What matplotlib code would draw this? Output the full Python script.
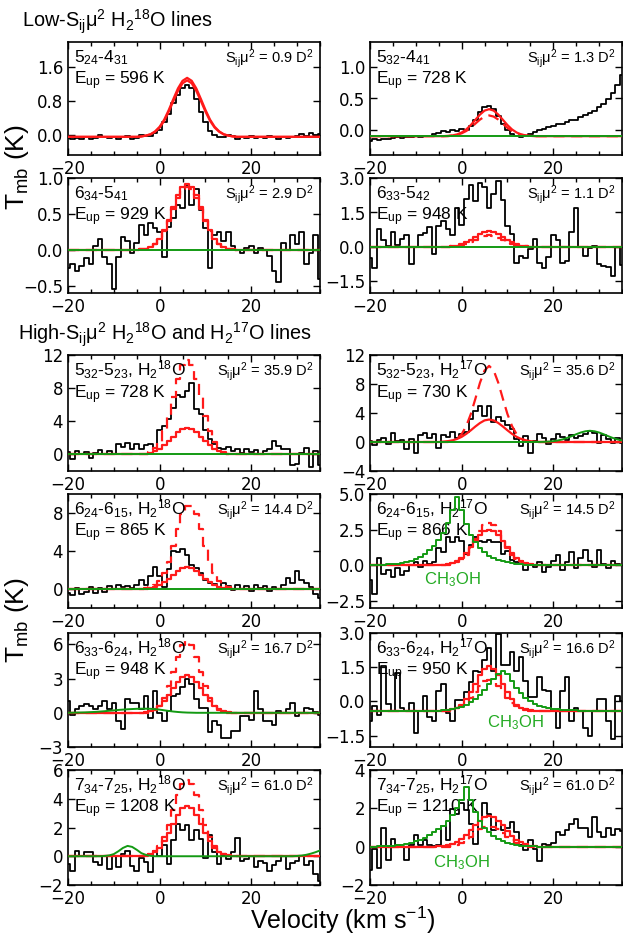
import numpy as np
import matplotlib
matplotlib.use('Agg')
import matplotlib.pyplot as plt
from matplotlib.ticker import MultipleLocator

plt.rcParams['mathtext.fontset'] = 'custom'
plt.rcParams['mathtext.rm'] = 'Liberation Sans'
plt.rcParams['mathtext.it'] = 'Liberation Sans:italic'
plt.rcParams['mathtext.bf'] = 'Liberation Sans:bold'

V_FIRST = -20   # km/s, first channel, 1 km/s channels
V_LAST = 35

# ---- 5_24-4_31 (low Sij mu^2) ----
a_obs = [-0.08, -0.10, -0.07, -0.10, -0.06, -0.10, -0.07, 0.00, -0.05, -0.08, -0.05, -0.10, -0.06, -0.04, -0.09, -0.07, 0.00, -0.04, -0.02, 0.04,
         0.12, 0.30, 0.50, 0.75, 0.95, 1.12, 1.18, 1.10, 0.85, 0.55, 0.30, 0.10, 0.00, -0.05, -0.06, 0.00, -0.04, -0.10, -0.05, -0.08,
         -0.04, -0.07, -0.05, -0.08, -0.03, -0.06, -0.10, -0.05, -0.08, -0.06, -0.03, 0.02, -0.02, 0.03, 0.00, 0.02]
a_fit = [-0.04, -0.02, 0.01, 0.08, 0.19, 0.36, 0.59, 0.85, 1.10, 1.28, 1.35, 1.28, 1.10, 0.85, 0.59, 0.36, 0.19, 0.08, 0.01, -0.02, -0.04]
a_fit2 = [-0.04, -0.02, 0.01, 0.07, 0.17, 0.33, 0.55, 0.80, 1.04, 1.22, 1.29, 1.22, 1.04, 0.80, 0.55, 0.33, 0.17, 0.07, 0.01, -0.02, -0.04]

# ---- 5_32-4_41 ----
b_obs = [-0.17, -0.15, -0.16, -0.14, -0.15, -0.13, -0.12, -0.13, -0.11, -0.12, -0.10, -0.11, -0.10, -0.09, -0.06, -0.05, -0.02, -0.03, 0.00, -0.01,
         0.02, 0.00, 0.06, 0.15, 0.28, 0.37, 0.38, 0.33, 0.22, 0.10, 0.00, -0.07, -0.10, -0.12, -0.10, -0.07, -0.03, 0.00, 0.02, 0.05,
         0.06, 0.09, 0.10, 0.12, 0.15, 0.16, 0.20, 0.24, 0.27, 0.30, 0.36, 0.42, 0.49, 0.58, 0.72, 0.88]
b_fit = [-0.095, -0.088, -0.072, -0.042, 0.007, 0.077, 0.161, 0.244, 0.307, 0.33, 0.307, 0.244, 0.161, 0.077, 0.007, -0.042, -0.072, -0.088, -0.095]
b_fit2 = [-0.09, -0.077, -0.055, -0.018, 0.032, 0.10, 0.164, 0.212, 0.23, 0.212, 0.164, 0.10, 0.032, -0.018, -0.055, -0.077, -0.09]

# ---- 6_34-5_41 ----
c_obs = [-0.25, -0.20, -0.30, -0.22, -0.12, -0.20, 0.05, 0.15, -0.10, -0.20, -0.55, -0.10, 0.18, 0.12, -0.05, 0.10, 0.35, 0.20, 0.38, 0.30,
         0.25, -0.10, 0.32, 0.45, 0.62, 0.58, 0.90, 0.62, 0.85, 0.55, 0.30, -0.25, 0.20, 0.25, 0.12, 0.25, 0.05, 0.00, -0.05, 0.02,
         0.05, -0.05, 0.02, 0.00, -0.08, -0.30, -0.45, 0.10, 0.00, 0.20, 0.08, 0.25, -0.20, -0.05, 0.20, -0.40]
c_fit = [0.007, 0.017, 0.04, 0.084, 0.158, 0.271, 0.421, 0.593, 0.757, 0.876, 0.92, 0.876, 0.757, 0.593, 0.421, 0.271, 0.158, 0.084, 0.04, 0.017, 0.007]
c_fit2 = [0.006, 0.016, 0.038, 0.08, 0.151, 0.26, 0.40, 0.57, 0.72, 0.84, 0.88, 0.84, 0.72, 0.57, 0.40, 0.26, 0.151, 0.08, 0.038, 0.016, 0.006]

# ---- 6_33-5_42 ----
d_obs = [-0.50, -0.90, 0.80, 0.30, 0.05, 0.65, 0.10, 0.35, 0.50, -0.75, 0.00, 0.50, 0.60, 0.85, -0.30, 0.90, 1.15, 0.80, 0.50, 1.70,
         0.95, 2.10, 2.70, 2.00, 2.80, 2.60, 1.70, 2.30, 2.85, 2.05, 0.90, 0.55, -0.70, -0.40, -0.50, -0.10, 0.35, -0.70, -0.90, -0.45,
         0.50, 0.30, -0.70, -0.60, 0.65, 1.70, 0.00, -0.40, -0.05, 0.05, -0.75, -0.82, -0.85, -1.25, 0.00, -0.80]
d_fit = [0.031, 0.064, 0.12, 0.206, 0.321, 0.451, 0.576, 0.666, 0.70, 0.666, 0.576, 0.451, 0.321, 0.206, 0.12, 0.064, 0.031]
d_fit2 = [0.022, 0.046, 0.086, 0.147, 0.229, 0.322, 0.411, 0.476, 0.50, 0.476, 0.411, 0.322, 0.229, 0.147, 0.086, 0.046, 0.022]

# ---- 5_32-5_23 H2 18O ----
e_obs = [0.3, -0.5, 0.4, 0.1, 0.3, -0.4, 0.2, 0.5, 0.0, 0.4, 0.1, 1.2, 0.9, 1.4, 0.7, 1.2, 0.6, 1.1, 1.3, 0.8,
         2.9, 3.4, 4.3, 5.6, 7.2, 6.9, 7.6, 8.6, 5.5, 4.9, 3.0, 1.9, 1.2, 0.8, 0.6, 0.9, 0.4, 0.6, 0.2, 0.7,
         0.3, 0.5, 0.1, 0.4, 0.6, 1.6, 1.0, 0.6, 0.7, -1.3, -1.1, 0.2, 0.8, -1.5, 0.4, -1.3]
e_fit = [0.10, 0.21, 0.40, 0.68, 1.09, 1.60, 2.16, 2.69, 3.07, 3.2, 3.07, 2.69, 2.16, 1.60, 1.09, 0.68, 0.40, 0.21, 0.10]
e_fit2 = [0.32, 0.75, 1.54, 2.84, 4.69, 6.91, 9.13, 10.78, 11.4, 10.78, 9.13, 6.91, 4.69, 2.84, 1.54, 0.75, 0.32]

# ---- 5_32-5_23 H2 17O ----
f_obs = [0.2, -0.4, 0.3, 0.5, -0.3, 1.3, 0.2, 0.3, -0.9, 0.4, -1.5, 1.0, 1.2, 0.6, 1.1, -0.8, 0.9, 0.7, 1.4, 0.6,
         1.1, 1.4, 3.2, 4.3, 5.0, 3.6, 4.9, 2.8, 3.4, 2.9, 2.4, 1.8, 0.4, -0.6, 0.8, -1.5, 0.2, 1.1, 0.6, -0.3,
         0.4, 1.1, 0.7, 0.3, 1.0, 0.6, 0.8, 1.1, 1.5, 1.3, -0.1, 1.0, 0.4, -0.2, 0.5, -0.1]
f_fit = [0.05, 0.12, 0.23, 0.42, 0.71, 1.12, 1.61, 2.14, 2.62, 2.98, 3.1, 2.98, 2.62, 2.14, 1.61, 1.12, 0.71, 0.42, 0.23, 0.12, 0.05]
f_fit2 = [0.17, 0.46, 1.07, 2.19, 3.85, 5.97, 8.17, 9.86, 10.5, 9.86, 8.17, 5.97, 3.85, 2.19, 1.07, 0.46, 0.17]
f_other = [0.004, 0.011, 0.026, 0.057, 0.114, 0.21, 0.356, 0.556, 0.80, 1.07, 1.31, 1.48, 1.55, 1.48, 1.31, 1.07, 0.80, 0.556, 0.356, 0.21]

# ---- 6_24-6_15 H2 18O ----
g_obs = [-0.4, -0.6, 0.1, -0.5, -0.3, 0.2, -0.4, 0.1, -0.3, 0.3, 0.0, 0.4, 0.2, 0.3, 0.1, 0.4, 1.0, 0.4, 1.4, 2.3,
         1.4, 0.2, 2.1, 4.0, 3.9, 4.2, 3.6, 2.5, 2.2, 1.7, 1.0, 0.6, 0.5, 0.2, 0.6, 0.3, -0.1, 0.4, 0.0, 0.3,
         -0.2, 0.4, 0.1, 0.3, -0.2, 0.2, 0.0, 0.4, 1.2, 0.6, 1.9, 1.0, 0.6, 0.2, -0.5, -0.9]
g_fit = [0.055, 0.12, 0.24, 0.44, 0.72, 1.10, 1.52, 1.91, 2.19, 2.3, 2.19, 1.91, 1.52, 1.10, 0.72, 0.44, 0.24, 0.12, 0.055]
g_fit2 = [0.16, 0.39, 0.85, 1.66, 2.89, 4.50, 6.29, 7.85, 8.78, 8.78, 7.85, 6.29, 4.50, 2.89, 1.66, 0.85, 0.39, 0.16]

# ---- 6_24-6_15 H2 17O ----
h_obs = [-1.0, -2.0, 0.5, -0.6, -0.3, -0.8, -0.2, -0.7, -0.4, 0.0, 0.2, -0.1, 0.3, 0.1, 0.2, 1.2, 0.9, 2.0, 1.6, 2.0,
         1.7, 0.8, 1.4, 2.0, 1.7, 1.6, 1.8, 1.6, 1.6, 0.8, 1.0, 0.4, 0.2, 0.3, -0.3, 0.0, -0.1, 0.2, -0.5, -0.1,
         0.3, 0.7, -0.3, 0.2, 0.9, -0.2, 0.5, 1.1, 0.3, -0.1, 1.1, 0.1, -0.2, 0.3, 0.1, 0.0]
h_fit = [0.03, 0.08, 0.16, 0.30, 0.53, 0.85, 1.25, 1.69, 2.10, 2.40, 2.5, 2.40, 2.10, 1.69, 1.25, 0.85, 0.53, 0.30, 0.16, 0.08, 0.03]
h_fit2 = [0.08, 0.20, 0.41, 0.75, 1.23, 1.82, 2.40, 2.84, 3.0, 2.84, 2.40, 1.82, 1.23, 0.75, 0.41, 0.20, 0.08]
h_other = [0.02, 0.03, 0.04, 0.05, 0.07, 0.09, 0.12, 0.16, 0.22, 0.30, 0.42, 0.58, 0.80, 1.05, 1.35, 1.75, 2.25, 3.0, 3.9, 4.8,
           3.9, 2.9, 2.1, 1.6, 1.2, 0.9, 0.68, 0.5, 0.37, 0.27, 0.2, 0.14, 0.1, 0.07, 0.05, 0.03, 0.02, 0.01, 0.0]

# ---- 6_33-6_24 H2 18O ----
i_obs = [1.05, -0.15, 0.3, 0.6, 0.75, 0.6, 0.3, 0.6, 1.05, 0.3, 0.9, -0.75, -1.4, 1.2, 0.9, 0.9, 0.3, 1.5, -0.45, 1.95,
         0.0, -0.75, 0.15, 1.5, 1.65, 2.25, 3.0, 2.55, 1.2, 0.45, 0.4, -1.65, -0.75, -1.05, -2.25, -2.25, -1.6, -1.6, -0.3, -0.3,
         -0.6, 1.95, 0.3, -0.75, -0.75, -1.05, 0.2, 0.0, 0.3, 0.9, -0.3, 0.0, 0.45, 0.3, 0.1, -0.15]
i_fit = [0.08, 0.17, 0.35, 0.63, 1.05, 1.58, 2.18, 2.74, 3.15, 3.3, 3.15, 2.74, 2.18, 1.58, 1.05, 0.63, 0.35, 0.17, 0.08]
i_fit2 = [0.11, 0.28, 0.64, 1.31, 2.31, 3.58, 4.90, 5.92, 6.3, 5.92, 4.90, 3.58, 2.31, 1.31, 0.64, 0.28, 0.11]
i_other = [0.0, 0.01, 0.02, 0.03, 0.04, 0.06, 0.08, 0.11, 0.14, 0.18, 0.21, 0.25, 0.28, 0.31, 0.33, 0.35, 0.36, 0.36, 0.35, 0.32,
           0.28, 0.22, 0.16, 0.11, 0.07, 0.04, 0.02, 0.01, 0.0]

# ---- 6_33-6_24 H2 17O ----
j_obs = [-0.85, -0.2, -0.6, 1.55, -0.1, -0.4, 1.25, -0.3, -0.4, -0.05, -1.4, -0.4, 0.25, -0.7, -0.85, 0.45, 0.75, -0.5, -0.85, 0.05,
         0.05, 0.4, 0.85, 1.35, 1.3, 1.8, 2.35, 1.35, 2.95, 1.6, 1.6, 2.15, 1.35, 1.95, 0.9, 0.2, 0.2, 1.05, 0.5, 0.45,
         -0.4, -1.15, 0.45, 1.05, -0.85, -0.3, -0.4, -1.15, -1.5, -0.4, 0.1, 0.1, -0.85, -1.65, 0.25, 0.0]
j_fit = [-0.38, -0.34, -0.27, -0.14, 0.09, 0.40, 0.78, 1.16, 1.44, 1.55, 1.44, 1.16, 0.78, 0.40, 0.09, -0.14, -0.27, -0.34, -0.38]
j_fit2 = [-0.36, -0.31, -0.22, -0.06, 0.16, 0.42, 0.68, 0.88, 0.95, 0.88, 0.68, 0.42, 0.16, -0.06, -0.22, -0.31, -0.36]
j_other = [-0.39, -0.37, -0.34, -0.30, -0.24, -0.15, -0.03, 0.12, 0.30, 0.50, 0.75, 1.0, 1.2, 1.35, 1.2, 0.9, 0.6, 0.35, 0.15, 0.0,
           -0.12, -0.2, -0.26, -0.3, -0.33, -0.35, -0.36, -0.37, -0.38, -0.39]

# ---- 7_34-7_25 H2 18O ----
k_obs = [-0.55, -1.0, 0.4, 0.0, 0.3, 0.3, -0.4, -0.6, 0.0, -0.9, 0.0, -0.75, 0.15, 0.4, -0.7, -1.0, -0.1, -0.4, -1.1, 0.4,
         0.0, 0.75, -0.55, 1.1, 2.25, 1.8, 2.15, 1.1, 1.8, 1.2, -0.1, 1.45, 0.3, -0.55, 0.0, -0.2, 0.3, 1.3, -0.3, -0.2,
         0.0, -0.75, -0.3, -0.5, -1.0, -0.6, -0.3, 0.0, -0.9, -0.5, -0.3, 0.0, -0.6, -0.3, -1.2, -1.7]
k_fit = [0.07, 0.15, 0.32, 0.60, 1.03, 1.60, 2.25, 2.88, 3.33, 3.5, 3.33, 2.88, 2.25, 1.60, 1.03, 0.60, 0.32, 0.15, 0.07]
k_fit2 = [0.15, 0.35, 0.72, 1.32, 2.18, 3.21, 4.25, 5.01, 5.3, 5.01, 4.25, 3.21, 2.18, 1.32, 0.72, 0.35, 0.15]
k_other = [0.02, 0.06, 0.15, 0.35, 0.58, 0.72, 0.65, 0.45, 0.22, 0.09, 0.03, 0.0] + [0.0] * 30 + [0.02, 0.05, 0.10, 0.18, 0.28, 0.40]

# ---- 7_34-7_25 H2 17O ----
l_obs = [-1.2, -0.1, -1.1, 0.95, -0.7, 0.4, 0.1, 0.0, -0.7, 0.1, 0.6, 0.1, 0.35, 0.1, 0.05, 0.1, 1.1, 0.35, 1.95, 1.7,
         2.3, 1.9, 1.2, 0.15, 1.35, 2.3, 1.7, 0.85, 1.35, 0.85, 1.0, 1.3, 0.75, 0.1, -0.15, 0.35, -0.1, -0.75, 0.15, 0.1,
         0.2, 0.75, 0.6, 0.85, 1.2, 1.45, 1.0, 0.95, 0.5, 1.55, 0.75, 0.5, 0.95, 0.6, 0.9, 0.8]
l_fit = [0.03, 0.05, 0.09, 0.14, 0.24, 0.39, 0.6, 0.85, 1.11, 1.36, 1.54, 1.6, 1.54, 1.36, 1.11, 0.83, 0.58, 0.37, 0.22, 0.12, 0.06, 0.03]
l_fit2 = [0.06, 0.11, 0.2, 0.34, 0.52, 0.72, 0.9, 1.04, 1.1, 1.04, 0.9, 0.72, 0.52, 0.34, 0.2, 0.11, 0.06]
l_other = [0.01, 0.02, 0.03, 0.05, 0.07, 0.1, 0.14, 0.2, 0.27, 0.36, 0.47, 0.6, 0.75, 0.92, 1.1, 1.35, 1.65, 2.0, 2.45, 3.1,
           2.45, 1.8, 1.35, 1.0, 0.75, 0.55, 0.4, 0.28, 0.19, 0.13, 0.08, 0.05, 0.03, 0.02, 0.01, 0.0]

transitions = [r'5$_{24}$-4$_{31}$', r'5$_{32}$-4$_{41}$', r'6$_{34}$-5$_{41}$', r'6$_{33}$-5$_{42}$',
               r'5$_{32}$-5$_{23}$, H$_2$$^{18}$O', r'5$_{32}$-5$_{23}$, H$_2$$^{17}$O',
               r'6$_{24}$-6$_{15}$, H$_2$$^{18}$O', r'6$_{24}$-6$_{15}$, H$_2$$^{17}$O',
               r'6$_{33}$-6$_{24}$, H$_2$$^{18}$O', r'6$_{33}$-6$_{24}$, H$_2$$^{17}$O',
               r'7$_{34}$-7$_{25}$, H$_2$$^{18}$O', r'7$_{34}$-7$_{25}$, H$_2$$^{17}$O']
e_up = [596, 728, 929, 948, 728, 730, 865, 866, 948, 950, 1208, 1210]
sij_mu2 = [0.9, 1.3, 2.9, 1.1, 35.9, 35.6, 14.4, 14.5, 16.7, 16.6, 61.0, 61.0]

RED = '#ff1a1a'
GREEN = '#139a13'


def full_curve(start, vals, base):
    v = np.arange(V_FIRST, V_LAST + 1)
    y = np.full(v.size, base, dtype=float)
    for n, val in enumerate(vals):
        j = start + n - V_FIRST
        if 0 <= j < v.size:
            y[j] = val
    return v, y


# obs, fit (start), fit2 (start), other species (start), baseline, ylim, yticks, styles
panels = [
    dict(obs=a_obs, fit=(a_fit, -4), fit2=(a_fit2, -4), other=([], V_FIRST), base=-0.05,
         ylim=(-0.48, 2.2), yticks=[0.0, 0.8, 1.6], steps=False, ls2='-', other_steps=False, green=False),
    dict(obs=b_obs, fit=(b_fit, -3), fit2=(b_fit2, -2), other=([], V_FIRST), base=-0.1,
         ylim=(-0.4, 1.4), yticks=[0.0, 0.5, 1.0], steps=False, ls2='--', other_steps=False),
    dict(obs=c_obs, fit=(c_fit, -4), fit2=(c_fit2, -4), other=([], V_FIRST), base=0.0,
         ylim=(-0.6, 1.0), yticks=[-0.5, 0.0, 0.5, 1.0], steps=True, ls2='--', other_steps=False),
    dict(obs=d_obs, fit=(d_fit, -2), fit2=(d_fit2, -2), other=([], V_FIRST), base=0.0,
         ylim=(-2.0, 3.0), yticks=[-1.5, 0.0, 1.5, 3.0], steps=True, ls2='--', other_steps=False),
    dict(obs=e_obs, fit=(e_fit, -3), fit2=(e_fit2, -2), other=([], V_FIRST), base=0.0,
         ylim=(-2, 12), yticks=[0, 4, 8, 12], steps=True, ls2='--', other_steps=False),
    dict(obs=f_obs, fit=(f_fit, -4), fit2=(f_fit2, -2), other=(f_other, 16), base=0.0,
         ylim=(-4, 12), yticks=[-4, 0, 4, 8, 12], steps=False, ls2='--', other_steps=False),
    dict(obs=g_obs, fit=(g_fit, -3), fit2=(g_fit2, -2), other=([], V_FIRST), base=0.0,
         ylim=(-2, 10), yticks=[0, 4, 8], steps=True, ls2='--', other_steps=False),
    dict(obs=h_obs, fit=(h_fit, -4), fit2=(h_fit2, -2), other=(h_other, -20), base=0.0,
         ylim=(-3, 5), yticks=[-2.5, 0.0, 2.5, 5.0], steps=True, ls2='--', other_steps=True,
         ch3oh=(-2.0, -1.0)),
    dict(obs=i_obs, fit=(i_fit, -3), fit2=(i_fit2, -2), other=(i_other, -20), base=0.0,
         ylim=(-3, 7), yticks=[-3, 0, 3, 6], steps=True, ls2='--', other_steps=False),
    dict(obs=j_obs, fit=(j_fit, -3), fit2=(j_fit2, -2), other=(j_other, -4), base=-0.4,
         ylim=(-2.0, 3.0), yticks=[-1.5, 0.0, 1.5, 3.0], steps=True, ls2='--', other_steps=True,
         ch3oh=(11.7, -0.95)),
    dict(obs=k_obs, fit=(k_fit, -3), fit2=(k_fit2, -2), other=(k_other, -12), base=0.0,
         ylim=(-2, 6), yticks=[-2, 0, 2, 4, 6], steps=True, ls2='--', other_steps=False),
    dict(obs=l_obs, fit=(l_fit, -5), fit2=(l_fit2, -2), other=(l_other, -18), base=0.0,
         ylim=(-2, 4), yticks=[-2, 0, 2, 4], steps=True, ls2='--', other_steps=True,
         ch3oh=(0.0, -0.85)),
]

W, H = 623, 938
rows_px = [(42, 155), (178, 293), (355, 471), (494, 608), (633, 747), (770, 885)]
cols_px = [(68, 320), (370, 622)]

fig = plt.figure(figsize=(W / 100, H / 100), dpi=100)

for k, p in enumerate(panels):
    r, c = divmod(k, 2)
    top, bot = rows_px[r]
    x0, x1 = cols_px[c]
    ax = fig.add_axes([x0 / W, 1 - bot / H, (x1 - x0) / W, (bot - top) / H])

    v_obs = V_FIRST + np.arange(len(p['obs']))
    ax.plot(v_obs, p['obs'], color='black', lw=1.3, drawstyle='steps-mid', zorder=2)

    ds = 'steps-mid' if p['steps'] else 'default'
    v, y = full_curve(p['fit'][1], p['fit'][0], p['base'])
    ax.plot(v, y, color=RED, lw=1.6, drawstyle=ds, zorder=3)
    v, y = full_curve(p['fit2'][1], p['fit2'][0], p['base'])
    ax.plot(v, y, color=RED, lw=1.6, ls=p['ls2'], dashes=(5, 3) if p['ls2'] == '--' else (None, None),
            drawstyle=ds, zorder=3)

    if p.get('green', True):
        v, y = full_curve(p['other'][1], p['other'][0], p['base'])
        ax.plot(v, y, color=GREEN, lw=1.4, drawstyle='steps-mid' if p['other_steps'] else 'default', zorder=4)

    if 'ch3oh' in p:
        ax.text(p['ch3oh'][0], p['ch3oh'][1], r'CH$_3$OH', color='#22aa22', fontsize=12,
                family='Liberation Sans', ha='center', va='center')

    ax.set_xlim(-20, 35)
    ax.set_ylim(*p['ylim'])
    ax.set_xticks([-20, 0, 20])
    ax.xaxis.set_minor_locator(MultipleLocator(5))
    ax.set_yticks(p['yticks'])
    ax.tick_params(which='both', direction='in', top=True, right=True, labelsize=12, width=1)
    ax.tick_params(which='major', length=5)
    ax.tick_params(which='minor', length=3)
    for s in ax.spines.values():
        s.set_linewidth(1.2)

    ax.text(0.025, 0.82, transitions[k], transform=ax.transAxes, fontsize=12.5,
            family='Liberation Sans', va='baseline', ha='left')
    ax.text(0.025, 0.63, r'E$_{\rm up}$ = %d K' % e_up[k], transform=ax.transAxes, fontsize=12.5,
            family='Liberation Sans', va='baseline', ha='left')
    ax.text(0.975, 0.82, r'S$_{\rm ij}$μ$^2$ = %.1f D$^2$' % sij_mu2[k], transform=ax.transAxes,
            fontsize=10.5, family='Liberation Sans', va='baseline', ha='right')

fig.text(22 / W, 1 - 22 / H, r'Low-S$_{\rm ij}$μ$^2$ H$_2$$^{18}$O lines', fontsize=14.3,
         family='Liberation Sans', va='center', ha='left')
fig.text(18 / W, 1 - 335 / H, r'High-S$_{\rm ij}$μ$^2$ H$_2$$^{18}$O and H$_2$$^{17}$O lines', fontsize=14.3,
         family='Liberation Sans', va='center', ha='left')
fig.text(17 / W, 1 - 167 / H, r'T$_{\rm mb}$ (K)', fontsize=19, family='Liberation Sans',
         rotation=90, va='center', ha='center')
fig.text(17 / W, 1 - 620 / H, r'T$_{\rm mb}$ (K)', fontsize=19, family='Liberation Sans',
         rotation=90, va='center', ha='center')
fig.text(343 / W, 1 - 920 / H, r'Velocity (km s$^{-1}$)', fontsize=18, family='Liberation Sans',
         va='center', ha='center')

fig.savefig('out.png', dpi=100)
